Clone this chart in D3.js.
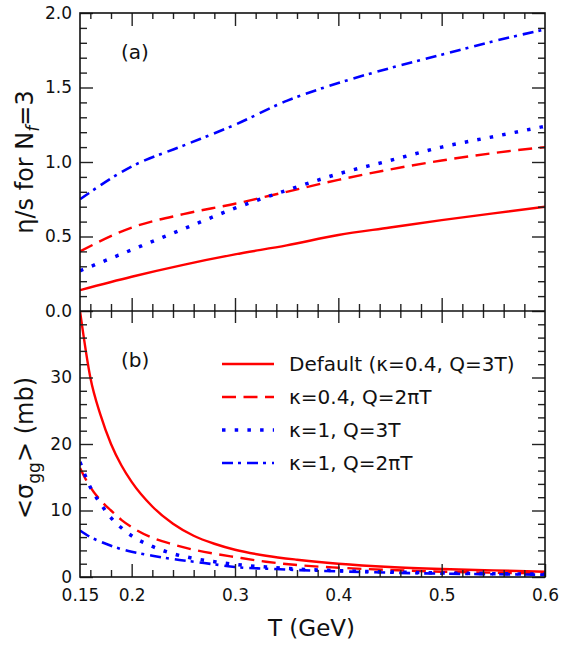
<!DOCTYPE html>
<html><head><meta charset="utf-8">
<script src="https://cdn.jsdelivr.net/npm/d3@7"></script>
<style>body{margin:0;background:#fff}text{font-family:"DejaVu Sans",sans-serif;fill:#111}</style>
</head><body><svg id="c" width="565" height="648"></svg>
<script>
// ---- data ----
const tTop = [0.15,0.2,0.25,0.3,0.35,0.4,0.45,0.5,0.55,0.6];
const etaDefault = [0.14,0.23,0.31,0.38,0.44,0.51,0.56,0.61,0.655,0.70];
const etaK04Q2pi = [0.40,0.56,0.65,0.72,0.80,0.88,0.95,1.01,1.06,1.10];
const etaK1Q3   = [0.27,0.41,0.55,0.69,0.81,0.92,1.01,1.10,1.17,1.24];
const etaK1Q2pi = [0.75,0.97,1.11,1.25,1.41,1.53,1.63,1.72,1.81,1.89];

const tBot = [0.15,0.16,0.17,0.18,0.19,0.20,0.22,0.24,0.26,0.28,0.30,0.33,0.36,0.40,0.45,0.50,0.55,0.60];
const sigDefault = [40,30,24.3,20,16.8,14.3,10.6,8.0,6.2,5.0,4.1,3.2,2.6,2.0,1.5,1.2,1.0,0.8];
const sigK04Q2pi = [16.4,13.5,11.5,10.0,8.6,7.5,5.9,4.9,4.1,3.5,3.0,2.3,1.8,1.4,1.05,0.8,0.65,0.55];
const sigK1Q3   = [17.3,13.5,11.0,8.9,7.4,6.2,4.6,3.5,2.8,2.3,1.9,1.5,1.2,0.95,0.75,0.6,0.5,0.42];
const sigK1Q2pi = [7.0,6.0,5.3,4.7,4.2,3.8,3.2,2.7,2.3,1.9,1.5,1.25,1.05,0.85,0.65,0.5,0.42,0.35];

const seriesNames = ["Default (κ=0.4, Q=3T)","κ=0.4, Q=2πT","κ=1, Q=3T","κ=1, Q=2πT"];
const xTickLabels = [0.15,0.2,0.3,0.4,0.5,0.6];
const yTopTicks = [0,0.5,1.0,1.5,2.0];
const yBotTicks = [0,10,20,30];

// ---- styles ----
const styles = [
  {color:"#ff0000", dash:null, w:2.4, cap:"butt"},
  {color:"#ff0000", dash:"14,7.5", w:2.4, cap:"butt"},
  {color:"#0000ff", dash:"3.5,9.2", w:3.5, cap:"butt"},
  {color:"#0000ff", dash:"11,5,3,6", w:2.6, cap:"butt"}
];

const svg = d3.select("#c");
const L=80, R=545, T0=13, M=311, B=577;
const x = d3.scaleLinear([0.15,0.6],[L,R]);
const yT = d3.scaleLinear([0,2],[M,T0]);
const yB = d3.scaleLinear([0,40],[B,M]);

const defs = svg.append("defs");
defs.append("clipPath").attr("id","cpT").append("rect").attr("x",L).attr("y",T0).attr("width",R-L).attr("height",M-T0);
defs.append("clipPath").attr("id","cpB").append("rect").attr("x",L).attr("y",M).attr("width",R-L).attr("height",B-M);

function drawLines(ts, arrs, y, clip){
  const g = svg.append("g").attr("clip-path",`url(#${clip})`);
  arrs.forEach((vals,i)=>{
    const line = d3.line().x((d,j)=>x(ts[j])).y(d=>y(d)).curve(d3.curveMonotoneX);
    const s = styles[i];
    g.append("path").datum(vals).attr("d",line).attr("fill","none")
      .attr("stroke",s.color).attr("stroke-width",s.w).attr("stroke-linecap",s.cap)
      .attr("stroke-dasharray",s.dash);
  });
}
drawLines(tTop,[etaDefault,etaK04Q2pi,etaK1Q3,etaK1Q2pi],yT,"cpT");
drawLines(tBot,[sigDefault,sigK04Q2pi,sigK1Q3,sigK1Q2pi],yB,"cpB");

// ---- axes ----
const majorX = [0.2,0.3,0.4,0.5];
const minorX = d3.range(0.16,0.6,0.02).map(v=>+v.toFixed(2)).filter(v=>Math.abs(v*10-Math.round(v*10))>1e-6);
const minorYT = d3.range(0.1,2.0,0.1).map(v=>+v.toFixed(1)).filter(v=>Math.abs(v*2-Math.round(v*2))>1e-6);
const minorYB = d3.range(2,40,2).filter(v=>v%10!==0);

function ax(gen, transform, vals, size, fmt, pad){
  const a = gen.tickValues(vals).tickSizeInner(size).tickSizeOuter(0).tickPadding(pad||8);
  if(fmt===null) a.tickFormat(""); else a.tickFormat(fmt);
  const g = svg.append("g").attr("transform",transform).call(a);
  g.select(".domain").remove();
  g.selectAll("line").attr("stroke","#222").attr("stroke-width",1.4);
  g.selectAll("text").attr("font-size",17).attr("font-family","DejaVu Sans").attr("fill","#111");
  return g;
}
// top edge
ax(d3.axisTop(x),`translate(0,${T0})`,majorX,-13,null);
ax(d3.axisTop(x),`translate(0,${T0})`,minorX,-6,null);
// middle edge, both sides
ax(d3.axisBottom(x),`translate(0,${M})`,majorX,-13,null);
ax(d3.axisBottom(x),`translate(0,${M})`,minorX,-7,null);
ax(d3.axisBottom(x),`translate(0,${M})`,majorX,12,null);
ax(d3.axisBottom(x),`translate(0,${M})`,minorX,7,null);
// bottom edge
ax(d3.axisBottom(x),`translate(0,${B})`,majorX.concat([0.6]),-13,null);
ax(d3.axisBottom(x),`translate(0,${B})`,minorX,-7,null);
ax(d3.axisBottom(x),`translate(0,${B})`,xTickLabels,0,d=>d===0.15?"0.15":d3.format(".1f")(d),12);
// left
ax(d3.axisLeft(yT),`translate(${L},0)`,yTopTicks,-13,d3.format(".1f"),8);
ax(d3.axisLeft(yT),`translate(${L},0)`,minorYT,-7,null);
ax(d3.axisLeft(yB),`translate(${L},0)`,yBotTicks,-13,d3.format("d"),8);
ax(d3.axisLeft(yB),`translate(${L},0)`,minorYB,-7,null);
// right
ax(d3.axisRight(yT),`translate(${R},0)`,yTopTicks,-13,null);
ax(d3.axisRight(yT),`translate(${R},0)`,minorYT,-7,null);
ax(d3.axisRight(yB),`translate(${R},0)`,yBotTicks,-13,null);
ax(d3.axisRight(yB),`translate(${R},0)`,minorYB,-7,null);

// frames
svg.append("rect").attr("x",L).attr("y",T0).attr("width",R-L).attr("height",B-T0)
  .attr("fill","none").attr("stroke","#111").attr("stroke-width",1.6);
svg.append("line").attr("x1",L).attr("x2",R).attr("y1",M).attr("y2",M).attr("stroke","#111").attr("stroke-width",1.6);

// panel labels
svg.append("text").attr("x",121).attr("y",59).attr("font-size",20).text("(a)");
svg.append("text").attr("x",121).attr("y",367).attr("font-size",20).text("(b)");

// axis titles
svg.append("text").attr("x",(L+R)/2-1).attr("y",636).attr("text-anchor","middle").attr("font-size",23).text("T (GeV)");
const yt1 = svg.append("text").attr("transform",`translate(33,${(T0+M)/2}) rotate(-90)`)
  .attr("text-anchor","middle").attr("font-size",24);
yt1.append("tspan").text("η/s for N");
yt1.append("tspan").attr("font-size",17).attr("font-style","italic").attr("dy",6).text("f");
yt1.append("tspan").attr("dy",-6).text("=3");
const yt2 = svg.append("text").attr("transform",`translate(33,${(M+B)/2+4}) rotate(-90)`)
  .attr("text-anchor","middle").attr("font-size",24);
yt2.append("tspan").text("<σ");
yt2.append("tspan").attr("font-size",17).attr("dy",7).text("gg");
yt2.append("tspan").attr("dy",-7).text("> (mb)");

// legend
const legY = [364,397,430,463];
seriesNames.forEach((name,i)=>{
  const s = styles[i];
  svg.append("line").attr("x1",222).attr("x2",274).attr("y1",legY[i]).attr("y2",legY[i])
    .attr("stroke",s.color).attr("stroke-width",s.w).attr("stroke-dasharray",s.dash).attr("stroke-linecap",s.cap);
  svg.append("text").attr("x",289).attr("y",legY[i]).attr("dy","0.36em").attr("font-size",20).text(name);
});
</script></body></html>
